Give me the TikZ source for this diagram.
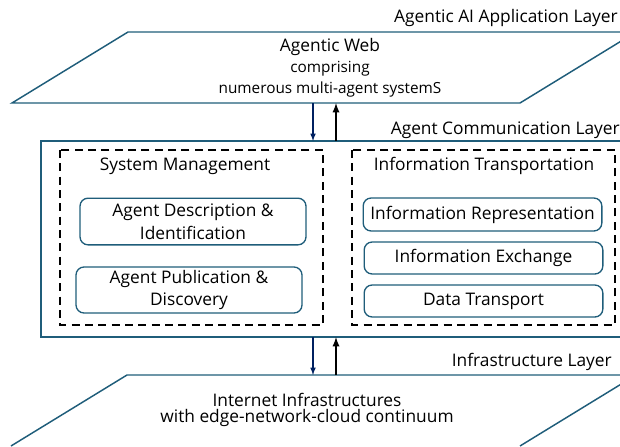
\documentclass[tikz,border=0pt]{standalone}
\usepackage{fontspec}
\setmainfont{Open Sans}
\usetikzlibrary{positioning}

\definecolor{layerblue}{RGB}{31,93,122}
\definecolor{arrownavy}{RGB}{0,32,96}

\begin{document}
\begin{tikzpicture}[x=0.75pt,y=-0.75pt,
    layer/.style={draw=layerblue,line width=1.1pt},
    group/.style={draw,line width=1.5pt,dash pattern=on 6pt off 4pt},
    item/.style={draw=layerblue,line width=1pt,rounded corners=6pt,align=center,
      inner sep=0pt,font=\fontsize{13}{17}\selectfont},
    txt/.style={inner sep=0pt,align=center,font=\fontsize{13}{15}\selectfont},
    small/.style={inner sep=0pt,align=center,font=\fontsize{11.5}{13}\selectfont},
    down/.style={->,>=latex,arrownavy,line width=0.9pt},
    up/.style={->,>=latex,black,line width=1.4pt}]
    \useasboundingbox (0,0) rectangle (620,446);
    \clip (0,0) rectangle (620,446);

    % application layer
    \node[txt,anchor=east] (applabel) at (618,18) {Agentic AI Application Layer};
    \draw[layer] (12,103) -- (128,32) -- (636,32) -- (520,103) -- cycle;
    \coordinate (app-d) at (313,103);
    \coordinate (app-u) at (336,103);
    \node[txt] (web) at (330,47) {Agentic Web};
    \node[small] (web2) at (330,69) {comprising};
    \node[small] (web3) at (330,90) {numerous multi-agent systemS};

    % communication layer
    \node[txt,anchor=east] (acllabel) at (620,130) {Agent Communication Layer};
    \draw[layer] (41,141) rectangle (660,337);
    \coordinate (acl-nd) at (313,141);
    \coordinate (acl-nu) at (336,141);
    \coordinate (acl-sd) at (313,337);
    \coordinate (acl-su) at (336,337);

    \draw[group] (60,150) rectangle (323,325);
    \node[txt] (sysm) at (185,166) {System Management};
    \node[item,minimum width=169.5pt,minimum height=35pt] (desc) at (193,221.5)
      {Agent Description \&\\Identification};
    \node[item,minimum width=169.5pt,minimum height=34.5pt] (publ) at (189,290)
      {Agent Publication \&\\Discovery};

    \draw[group] (352,150) rectangle (615,325);
    \node[txt] (info) at (484,166) {Information Transportation};
    \node[item,minimum width=179pt,minimum height=24.75pt] (repr) at (482.5,214.5)
      {Information Representation};
    \node[item,minimum width=179pt,minimum height=24pt] (exch) at (483.5,258)
      {Information Exchange};
    \node[item,minimum width=179pt,minimum height=24pt] (data) at (483.5,301)
      {Data Transport};

    % infrastructure layer
    \node[txt,anchor=east] (inflabel) at (612,362) {Infrastructure Layer};
    \draw[layer] (11,446) -- (127,375) -- (700,375);
    \draw[layer] (636,375) -- (520,446);
    \coordinate (inf-d) at (313,375);
    \coordinate (inf-u) at (336,375);
    \node[txt] (inet) at (307,400) {Internet Infrastructures};
    \node[txt] (inet2) at (307,418) {with edge-network-cloud continuum};

    % arrows between layers
    \draw[down] (app-d) -- (acl-nd);
    \draw[up] (acl-nu) -- (app-u);
    \draw[down] (acl-sd) -- (inf-d);
    \draw[up] (inf-u) -- (acl-su);
\end{tikzpicture}
\end{document}
